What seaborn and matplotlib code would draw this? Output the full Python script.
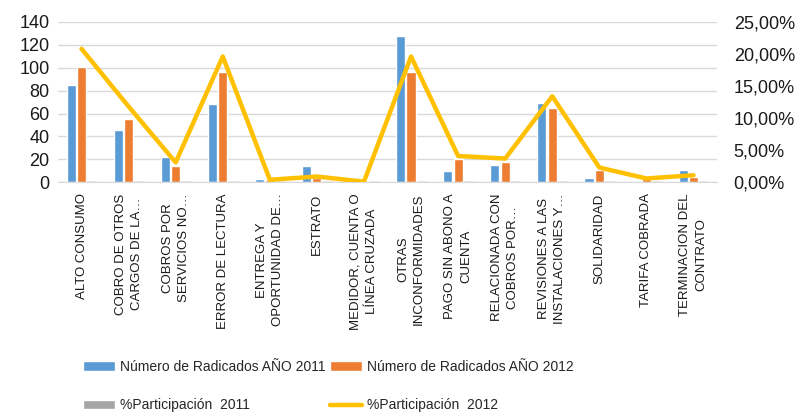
import numpy as np
import pandas as pd
import seaborn as sns
import matplotlib.pyplot as plt
from matplotlib.ticker import FuncFormatter

categorias = [
    "ALTO CONSUMO",
    "COBRO DE OTROS\nCARGOS DE LA…",
    "COBROS POR\nSERVICIOS NO…",
    "ERROR DE LECTURA",
    "ENTREGA Y\nOPORTUNIDAD DE…",
    "ESTRATO",
    "MEDIDOR, CUENTA O\nLÍNEA CRUZADA",
    "OTRAS\nINCONFORMIDADES",
    "PAGO SIN ABONO A\nCUENTA",
    "RELACIONADA CON\nCOBROS POR…",
    "REVISIONES A LAS\nINSTALACIONES Y…",
    "SOLIDARIDAD",
    "TARIFA COBRADA",
    "TERMINACION DEL\nCONTRATO",
]
radicados_2011 = [85, 46, 22, 68, 3, 14, 1, 128, 10, 15, 69, 4, 0, 11]
radicados_2012 = [101, 55, 14, 96, 2, 4, 0, 96, 20, 18, 65, 11, 3, 5]
# participacion 2011 como fraccion (va en el eje izquierdo, casi no se ve)
participacion_2011 = [0.18, 0.10, 0.05, 0.14, 0.01, 0.03, 0.01, 0.27, 0.02, 0.03, 0.14, 0.01, 0.01, 0.02]
# participacion 2012 en %, eje derecho
participacion_2012 = [20.8, 11.8, 3.1, 19.6, 0.4, 0.9, 0.1, 19.6, 4.1, 3.7, 13.4, 2.3, 0.6, 1.1]

series = ["Número de Radicados AÑO 2011", "Número de Radicados AÑO 2012", "%Participación  2011"]
colores = ["#5B9BD5", "#ED7D31", "#A5A5A5"]
amarillo = "#FFC000"

sns.set_style("white")
plt.rcParams["font.family"] = ["Liberation Sans", "DejaVu Sans"]

n = len(categorias)
df = pd.DataFrame({
    "categoria": categorias * 3,
    "serie": [series[0]] * n + [series[1]] * n + [series[2]] * n,
    "valor": radicados_2011 + radicados_2012 + participacion_2011,
})

fig = plt.figure(figsize=(7.99, 4.12), dpi=100)
ax = fig.add_axes([0.0726, 0.5575, 0.8248, 0.3895])

sns.barplot(data=df, x="categoria", y="valor", hue="serie", palette=colores,
            saturation=1, width=0.66, gap=0.12, ax=ax)
for p in ax.containers[2]:
    p.set_edgecolor("#A5A5A5")
    p.set_linewidth(1.0)

h_bars, l_bars = ax.get_legend_handles_labels()
ax.get_legend().remove()

ax.set_ylim(0, 140)
ax.set_yticks(range(0, 141, 20))
ax.grid(axis="y", color="#D9D9D9", linewidth=1)
ax.set_axisbelow(True)
ax.set_xlabel("")
ax.set_ylabel("")
for s in ["top", "left", "right"]:
    ax.spines[s].set_visible(False)
ax.spines["bottom"].set_color("#D9D9D9")
ax.tick_params(axis="y", length=0, labelsize=13, pad=6, labelcolor="#1a1a1a")
ax.tick_params(axis="x", length=0, labelsize=9.5, pad=8, labelrotation=90, labelcolor="#1a1a1a")
for t in ax.get_xticklabels():
    t.set_multialignment("center")
    t.set_linespacing(1.45)

ax2 = ax.twinx()
sns.lineplot(x=np.arange(n), y=participacion_2012, ax=ax2, color=amarillo,
             linewidth=3.2, label="%Participación  2012")
h_line, l_line = ax2.get_legend_handles_labels()
ax2.get_legend().remove()
ax2.set_ylim(0, 25)
ax2.set_yticks(range(0, 26, 5))
ax2.yaxis.set_major_formatter(FuncFormatter(lambda v, pos: f"{v:.2f}%".replace(".", ",")))
ax2.tick_params(axis="y", length=0, labelsize=13, pad=12, labelcolor="#1a1a1a")
ax2.set_ylabel("")
for s in ax2.spines.values():
    s.set_visible(False)
ax.set_xlim(-0.5, n - 0.5)

handles = [h_bars[0], h_bars[2], h_bars[1], h_line[0]]
labels = [l_bars[0], l_bars[2], l_bars[1], l_line[0]]
fig.legend(handles, labels, loc="upper left", bbox_to_anchor=(0.104, 0.126),
           ncol=2, frameon=False, fontsize=10, handlelength=2.3, handleheight=0.7,
           handletextpad=0.35, columnspacing=0.35, labelspacing=1.75,
           borderpad=0, borderaxespad=0)

fig.savefig("out.png", dpi=100)
